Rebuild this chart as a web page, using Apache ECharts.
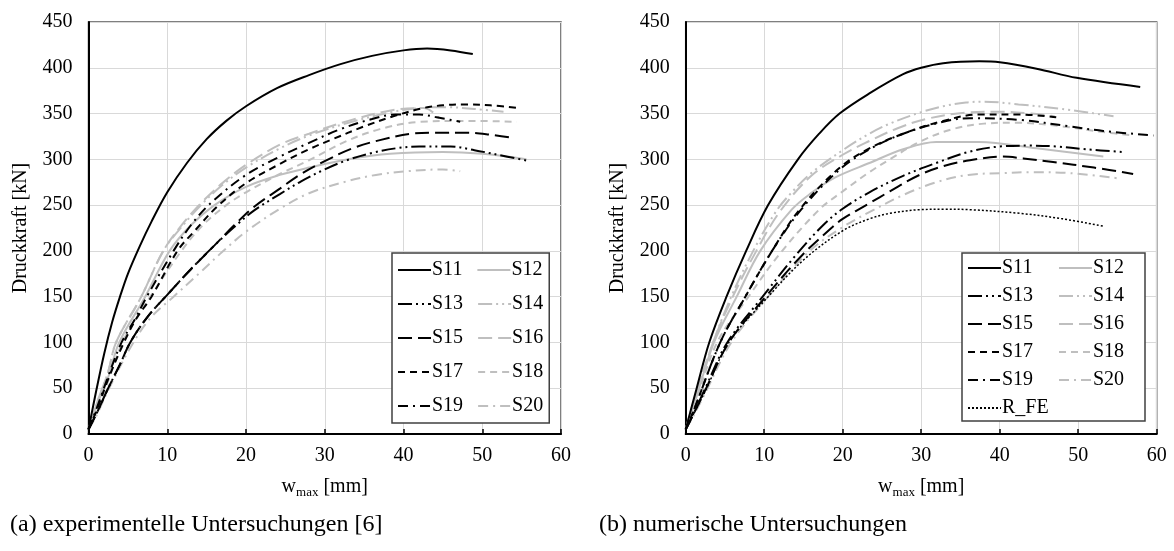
<!DOCTYPE html>
<html>
<head>
<meta charset="utf-8">
<script src="https://cdn.jsdelivr.net/npm/echarts@6/dist/echarts.min.js"></script>
<style>
  html, body { margin: 0; padding: 0; background: #fff; }
  #chart { width: 1174px; height: 551px; }
</style>
</head>
<body>
<div id="chart"></div>
<script>
// ---- Daten: [w_max in mm, Druckkraft in kN] ----
// (a) experimentelle Untersuchungen
var expS11 = [[0,5],[1,48],[2,88],[3,122],[4,150],[5,175],[6.5,205],[8,232],[10,264],[12.5,296],[15,322],[17.5,342],[20,358],[24,378],[28,392],[32,404],[36,413],[40,419],[43,421],[46,419],[48.8,415]];
var expS12 = [[0,5],[1,30],[2.5,62],[3.9,100],[7.2,150],[10.3,200],[13,228],[16,250],[20,270],[24.3,283],[28,291],[33,300],[38.3,306],[45,308],[50,306],[55.6,300]];
var expS13 = [[0,5],[1,22],[2.5,50],[4,76],[5.3,100],[7.5,128],[10,152],[13,180],[16,206],[18.5,226],[21,244],[24.3,262],[27,276],[30,289],[32.8,299],[36,307],[39,312],[42,314],[46,314],[49,310],[51.4,306],[56,298]];
var expS14 = [[0,5],[1,32],[2.5,68],[3.5,100],[6.7,150],[9.5,200],[12,228],[14.5,252],[17,272],[20,291],[24.3,312],[28,326],[33,340],[38.7,352],[42.1,356],[45.5,357],[49,355],[52.7,352]];
var expS15 = [[0,5],[1,22],[2.5,50],[4,76],[5.3,100],[7.5,128],[10,152],[13,180],[16,206],[18.5,228],[21,248],[24.3,268],[27,284],[30,298],[33.5,312],[37,321],[41,328],[44,329],[48,329],[51,327],[53.5,324]];
var expS16 = [[0,5],[1,32],[2.5,68],[3.5,100],[6.7,150],[9.5,200],[12,230],[14.5,254],[17,274],[20,294],[24.3,316],[28,328],[33,342],[38.7,354],[42.6,356],[43.8,351],[44.5,345]];
var expS17 = [[0,5],[1,25],[2.5,60],[4.5,100],[6,125],[8,150],[11.3,200],[13.5,222],[16.3,248],[20,274],[24.3,295],[28,311],[31,322],[35,336],[38.7,347],[42.5,356],[45,359],[48,360],[51,359],[54.8,356]];
var expS18 = [[0,5],[1,25],[2.5,58],[4.3,100],[6,125],[8,152],[11.8,200],[14.5,228],[17.5,250],[20,264],[24.3,284],[28,299],[32.8,320],[37,333],[42.1,341],[48,342],[54.4,341]];
var expS19 = [[0,5],[1,27],[2.5,63],[4.2,100],[6,127],[7.4,150],[10.8,200],[13,228],[15.5,252],[20,283],[24.3,303],[28,318],[32,333],[36,344],[39,349],[42,349],[44.2,346],[47.2,341]];
var expS20 = [[0,5],[1,20],[2.5,48],[5.7,100],[8,128],[10.8,150],[14,175],[17,199],[20,221],[24.3,246],[28,263],[32.8,276],[36.5,283],[40.4,287],[45,289],[47.2,287]];

// (b) numerische Untersuchungen
var numS11 = [[0,5],[1.4,50],[3,100],[5.2,150],[7.7,200],[10.5,250],[14.3,300],[17,328],[19.6,350],[23.4,372],[27.7,393],[30,400],[32.8,405],[37.4,407],[40,406],[44.7,399],[49.8,389],[57.9,379]];
var numS12 = [[0,5],[1,30],[3.6,100],[6.5,150],[9.5,200],[13.5,245],[15.8,262],[19,280],[23.4,296],[27.7,311],[31.9,319],[37.4,319],[44.7,312],[53.2,303]];
var numS13 = [[0,5],[1,22],[2.5,50],[5.3,100],[9.8,150],[14,195],[17.5,228],[20,246],[23.4,264],[27.7,282],[31.9,296],[36,308],[40,314],[44,315],[47.2,314],[51,311],[55.7,308]];
var numS14 = [[0,5],[1,35],[3.5,100],[5.8,150],[8.6,200],[11.5,243],[13.3,262],[16,285],[20,310],[23.4,328],[26,339],[29.8,351],[32.8,358],[35.7,362],[38,363],[42.4,360],[48,355],[54.5,347]];
var numS15 = [[0,5],[1,22],[2.5,48],[5.5,100],[10.2,150],[14.8,195],[18.7,226],[20,235],[23.4,252],[26,265],[29.8,283],[33,293],[36.2,299],[40.4,303],[43,301],[46.8,297],[52,291],[57,284]];
var numS16 = [[0,5],[1,35],[3.5,100],[6,150],[9,200],[12,243],[16,282],[20,305],[23.4,320],[27,334],[30.6,344],[35.7,351],[40.4,352],[44,350],[47,347]];
var numS17 = [[0,5],[1,25],[4.4,100],[7.6,150],[11,200],[14.5,245],[19.5,290],[23.4,312],[27.7,328],[32.8,342],[37.4,349],[42.5,349],[47.2,346]];
var numS18 = [[0,5],[1,28],[4,100],[8,150],[12,197],[17,245],[20,265],[23.4,286],[26,300],[30,320],[34,333],[38,339],[42,340],[48,336],[53,330],[57,326]];
var numS19 = [[0,5],[1,25],[4.4,100],[7.6,150],[11,200],[14.7,245],[19.5,288],[23.4,311],[27.7,328],[32.8,341],[36.2,345],[42.6,343],[48.9,336],[53.2,331],[59.6,326]];
var numS20 = [[0,5],[1,20],[2.5,45],[5.8,100],[10.5,150],[15.8,200],[20,226],[24,245],[27.7,261],[31.9,275],[36,283],[40.4,285],[44,286],[48.9,285],[55.3,279]];
var numRFE = [[0,5],[1,22],[2.5,47],[5.5,100],[10.3,148],[15,190],[20,222],[23.4,235],[26,241],[29.8,245],[33,245.5],[36.2,245],[42.6,241],[48,235],[53.2,227]];

var xTicks = [0, 60, 10];     // min, max, interval
var yTicks = [0, 450, 50];
var seriesNames = ['S11','S12','S13','S14','S15','S16','S17','S18','S19','S20'];

var FONT = 'Liberation Serif';
var BLACK = '#000000', GRAY = '#bfbfbf';

// Linienstile je Versuch
var styles = {
    S11: { color: BLACK, type: 'solid' },
    S12: { color: GRAY,  type: 'solid' },
    S13: { color: BLACK, type: [14,4,2,4,2,4] },
    S14: { color: GRAY,  type: [14,4,2,4,2,4] },
    S15: { color: BLACK, type: [14,6] },
    S16: { color: GRAY,  type: [14,6] },
    S17: { color: BLACK, type: [7,5] },
    S18: { color: GRAY,  type: [7,5] },
    S19: { color: BLACK, type: [10,5,2,5] },
    S20: { color: GRAY,  type: [10,5,2,5] },
    R_FE: { color: BLACK, type: [2,2], width: 1.5 }
};

function mkSeries(name, data, idx) {
    var st = styles[name];
    return {
        name: name,
        type: 'line',
        xAxisIndex: idx,
        yAxisIndex: idx,
        data: data,
        smooth: 0.35,
        symbol: 'none',
        color: st.color,
        lineStyle: { color: st.color, width: st.width || 2, type: st.type },
        z: st.color == GRAY ? 1 : 2
    };
}

function mkX(idx) {
    return {
        type: 'value', gridIndex: idx,
        min: xTicks[0], max: xTicks[1], interval: xTicks[2],
        name: '{w|w}{sub|max}{n| [mm]}',
        nameLocation: 'middle', nameGap: 41,
        nameTextStyle: {
            rich: {
                w: { fontFamily: FONT, fontSize: 20, color: '#000', lineHeight: 24, verticalAlign: 'middle' },
                sub: { fontFamily: FONT, fontSize: 13, color: '#000', lineHeight: 24, verticalAlign: 'bottom' },
                n: { fontFamily: FONT, fontSize: 20, color: '#000', lineHeight: 24, verticalAlign: 'middle' }
            }
        },
        axisLine: { lineStyle: { color: '#000', width: 2 } },
        axisTick: { inside: true, length: 5, lineStyle: { color: '#000', width: 1.5 } },
        axisLabel: { fontFamily: FONT, fontSize: 20, color: '#000', margin: 12 },
        splitLine: { lineStyle: { color: '#d9d9d9', width: 1 } }
    };
}

function mkY(idx) {
    return {
        type: 'value', gridIndex: idx,
        min: yTicks[0], max: yTicks[1], interval: yTicks[2],
        name: 'Druckkraft [kN]',
        nameLocation: 'middle', nameGap: 58,
        nameTextStyle: { fontFamily: FONT, fontSize: 20, color: '#000' },
        axisLine: { show: true, lineStyle: { color: '#000', width: 2 } },
        axisTick: { show: false },
        axisLabel: { fontFamily: FONT, fontSize: 20, color: '#000', margin: 16 },
        splitLine: { lineStyle: { color: '#d9d9d9', width: 1 } }
    };
}

function mkLegend(left, top, names, orient, gap, boxW, pad, framed) {
    return {
        left: left, top: top,
        orient: orient,
        width: boxW,
        data: names,
        itemWidth: 33, itemHeight: 12, itemGap: gap,
        padding: pad,
        backgroundColor: framed ? '#fff' : 'transparent',
        borderColor: '#404040', borderWidth: framed ? 1.5 : 0,
        selectedMode: false,
        itemStyle: { opacity: 0 },
        z: 5,
        textStyle: { fontFamily: FONT, fontSize: 20, color: '#000', padding: [0,0,0,-4] }
    };
}

var chart = echarts.init(document.getElementById('chart'), null, { renderer: 'canvas' });

var series = [];
seriesNames.forEach(function (n) { series.push(mkSeries(n, window['exp' + n], 0)); });
seriesNames.forEach(function (n) { series.push(mkSeries(n, window['num' + n], 1)); });
series.push(mkSeries('R_FE', numRFE, 1));

var col1 = ['S11','S13','S15','S17','S19','R_FE'];
var col2 = ['S12','S14','S16','S18','S20'];

var option = {
    animation: false,
    backgroundColor: '#fff',
    grid: [
        { left: 88.5, top: 22, width: 472.5, height: 412, show: true, borderColor: '#555', borderWidth: 1.5, backgroundColor: 'transparent' },
        { left: 685.7, top: 22, width: 471, height: 412, show: true, borderColor: '#555', borderWidth: 1.5, backgroundColor: 'transparent' }
    ],
    xAxis: [mkX(0), mkX(1)],
    yAxis: [mkY(0), mkY(1)],
    legend: [
        mkLegend(392, 253, seriesNames, 'horizontal', 14, 150, [7, 6, 7, 5], true),
        mkLegend(962, 253, col1, 'vertical', 8, 100, [5, 0, 4, 5], false),
        mkLegend(1053, 253, col2, 'vertical', 8, 100, [5, 0, 4, 5], false)
    ],
    graphic: [
        { type: 'rect', z: 4, shape: { x: 962, y: 253, width: 183, height: 168 },
          style: { fill: '#fff', stroke: '#404040', lineWidth: 1.5 } },
        { type: 'text', left: 10, top: 513, style: { text: '(a) experimentelle Untersuchungen [6]', font: '24px "Liberation Serif"', fill: '#000' } },
        { type: 'text', left: 599, top: 513, style: { text: '(b) numerische Untersuchungen', font: '24px "Liberation Serif"', fill: '#000' } }
    ],
    series: series
};

chart.setOption(option);
</script>
</body>
</html>
